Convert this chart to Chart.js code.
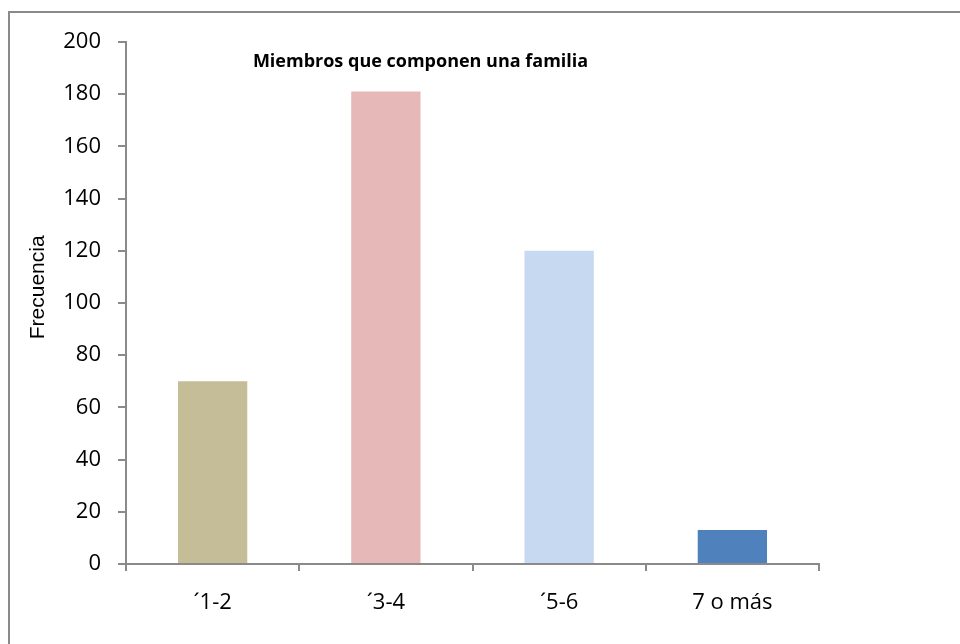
<!DOCTYPE html>
<html>
<head>
<meta charset="utf-8">
<script src="https://cdn.jsdelivr.net/npm/chart.js@4"></script>
<style>
  html, body { margin: 0; padding: 0; background: #fff; overflow: hidden; }
  #wrap { position: relative; width: 960px; height: 644px; }
  #frame { position: absolute; left: 8px; top: 11px; width: 1000px; height: 700px;
           border: 2px solid #8a8a8a; box-sizing: border-box; }
  #chart { position: absolute; left: 0; top: 0; }
</style>
</head>
<body>
<div id="wrap">
  <div id="frame"></div>
  <canvas id="chart" width="960" height="644"></canvas>
</div>
<script>
var categorias = ["\u00b41-2", "\u00b43-4", "\u00b45-6", "7 o m\u00e1s"];
var frecuencias = [70, 181, 120, 13];
var barColors = ["#c4bd97", "#e6b9b8", "#c6d9f1", "#4f81bd"];
var titulo = "Miembros que componen una familia";
var tituloEje = "Frecuencia";

var axisGray = "#8a8a8a";

// chart title inside the plot area, axis title to the left of the tick labels
var textosPlugin = {
  id: "textos",
  afterDraw: function(chart) {
    var ctx = chart.ctx;
    var area = chart.chartArea;
    ctx.save();
    ctx.fillStyle = "#000";
    ctx.textAlign = "center";
    ctx.textBaseline = "middle";
    ctx.font = "bold 18px 'Open Sans'";
    ctx.fillText(titulo, area.left + (area.right - area.left) * 0.425, area.top + 20);
    ctx.translate(38, area.top + (area.bottom - area.top) * 0.47);
    ctx.rotate(-Math.PI / 2);
    ctx.font = "21px 'Liberation Sans'";
    ctx.fillText(tituloEje, 0, 0);
    ctx.restore();
  }
};

new Chart("chart", {
  type: "bar",
  data: {
    labels: categorias,
    datasets: [{
      data: frecuencias,
      backgroundColor: barColors,
      borderWidth: 0,
      barPercentage: 0.4,
      categoryPercentage: 1
    }]
  },
  options: {
    responsive: false,
    animation: false,
    layout: { padding: { left: 0, top: 42, right: 141, bottom: 0 } },
    plugins: {
      legend: { display: false },
      tooltip: { enabled: false },
      title: { display: false }
    },
    scales: {
      x: {
        afterFit: function(scale) { scale.height = 80; },
        border: { color: axisGray, width: 2 },
        grid: { offset: true, drawOnChartArea: false, drawTicks: true, tickLength: 7, color: axisGray, lineWidth: 2 },
        ticks: { color: "#000", font: { family: "'Open Sans'", size: 22 }, padding: 19 }
      },
      y: {
        min: 0,
        max: 200,
        afterFit: function(scale) { scale.width = 126; },
        border: { color: axisGray, width: 2 },
        grid: { drawOnChartArea: false, drawTicks: true, tickLength: 8, color: axisGray, lineWidth: 2 },
        ticks: { stepSize: 20, color: "#000", font: { family: "'Open Sans'", size: 22 }, padding: 17 }
      }
    }
  },
  plugins: [textosPlugin]
});
</script>
</body>
</html>
